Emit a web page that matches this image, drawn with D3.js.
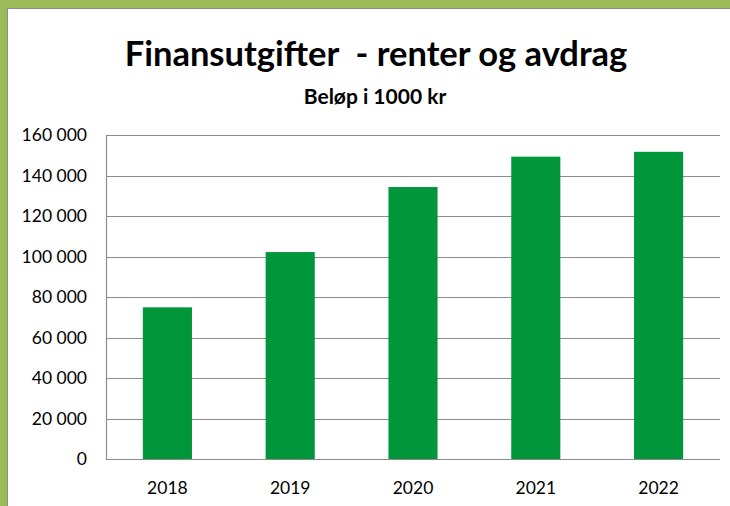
<html>
<head>
  <meta charset="utf-8">
  <title>Finansutgifter</title>
  <style>
    body { margin: 0; background: #9bbb59; }
    svg { display: block; }
  </style>
  <script src="https://d3js.org/d3.v7.min.js"></script>
</head>
<body>
  <div id="chart"></div>
  <script>
    // chart values
    var years = ["2018", "2019", "2020", "2021", "2022"];
    var amounts = [74900, 102200, 134300, 149300, 151700];
    var yTicks = [0, 20000, 40000, 60000, 80000, 100000, 120000, 140000, 160000];

    var W = 730, H = 506;
    var margin = { top: 135, right: 10, bottom: 47, left: 106 },
        width = W - margin.left - margin.right,
        height = H - margin.top - margin.bottom;

    var svg = d3.select("#chart").append("svg")
        .attr("width", W)
        .attr("height", H);

    // frame: green border with grey edge, white chart area
    svg.append("rect").attr("x", 0).attr("y", 0).attr("width", W).attr("height", H).attr("fill", "#9bbb59");
    svg.append("rect").attr("x", 7).attr("y", 8).attr("width", W - 7).attr("height", H - 8).attr("fill", "#8c8c8c");
    svg.append("rect").attr("x", 8).attr("y", 9).attr("width", W - 8).attr("height", H - 9).attr("fill", "#ffffff");

    var font = "Lato, 'Open Sans', sans-serif";

    svg.append("text")
        .attr("x", 376).attr("y", 66)
        .attr("text-anchor", "middle")
        .style("font", "bold 34.5px " + font)
        .style("white-space", "pre")
        .attr("fill", "#000")
        .text("Finansutgifter  - renter og avdrag");

    svg.append("text")
        .attr("x", 375).attr("y", 104)
        .attr("text-anchor", "middle")
        .style("font", "bold 21px " + font)
        .attr("fill", "#000")
        .text("Beløp i 1000 kr");

    var g = svg.append("g")
        .attr("transform", "translate(" + margin.left + "," + margin.top + ")");

    var x = d3.scaleBand()
        .domain(years)
        .range([0, width])
        .paddingInner(0.6)
        .paddingOuter(0.3);

    var y = d3.scaleLinear()
        .domain([0, 160000])
        .range([height, 0]);

    var fmt = function(v) { return d3.format(",")(v).replace(/,/g, " "); };

    // gridlines
    g.selectAll(".grid")
        .data(yTicks)
        .enter().append("line")
        .attr("x1", 0).attr("x2", width)
        .attr("y1", function(d) { return Math.round(y(d)) + 0.5; })
        .attr("y2", function(d) { return Math.round(y(d)) + 0.5; })
        .attr("stroke", "#8c8c8c")
        .attr("stroke-width", 1.2);

    // bars
    g.selectAll(".bar")
        .data(amounts)
        .enter().append("rect")
        .attr("x", function(d, i) { return x(years[i]); })
        .attr("y", function(d) { return y(d); })
        .attr("width", x.bandwidth())
        .attr("height", function(d) { return height - y(d); })
        .attr("fill", "#02963a");

    // y axis
    var yAxis = g.append("g")
        .call(d3.axisLeft(y).tickValues(yTicks).tickFormat(fmt).tickSize(0).tickPadding(19));
    yAxis.select(".domain").attr("stroke", "#8c8c8c").attr("stroke-width", 1.2);
    yAxis.selectAll("text").style("font", "17.5px " + font).attr("fill", "#000");

    // x axis
    var xAxis = g.append("g")
        .attr("transform", "translate(0," + height + ")")
        .call(d3.axisBottom(x).tickSize(0).tickPadding(23));
    xAxis.select(".domain").remove();
    xAxis.selectAll("text").style("font", "17.5px " + font).attr("fill", "#000");
  </script>
</body>
</html>
